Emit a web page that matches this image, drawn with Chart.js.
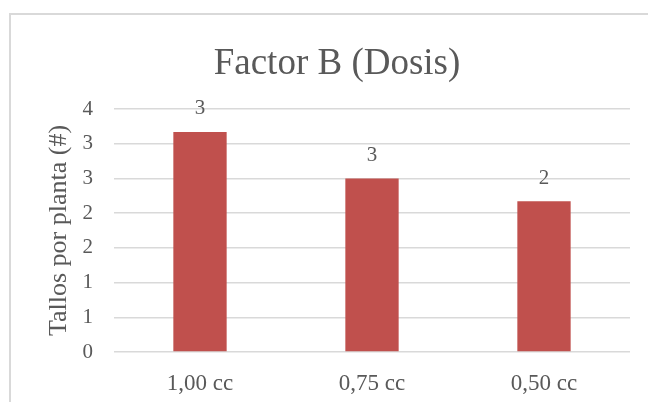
<!DOCTYPE html>
<html>
<head>
<meta charset="utf-8">
<script src="https://cdn.jsdelivr.net/npm/chart.js@4/dist/chart.umd.min.js"></script>
<style>
  html, body { margin: 0; padding: 0; background: #ffffff; }
  #wrap { position: relative; width: 648px; height: 402px; overflow: hidden; }
  #frame { position: absolute; left: 9px; top: 13px; width: 700px; height: 450px;
           border: 2px solid #d9d9d9; box-sizing: border-box; }
  #chart { position: absolute; left: 0; top: 0; }
</style>
</head>
<body>
<div id="wrap">
  <div id="frame"></div>
  <canvas id="chart" width="648" height="402"></canvas>
</div>
<script>
// Tallos por planta según la dosis aplicada
const categories = ['1,00 cc', '0,75 cc', '0,50 cc'];
const tallos = [3.17, 2.50, 2.17];
const chartTitle = 'Factor B (Dosis)';
const yTitle = 'Tallos por planta (#)';

const textColor = '#595959';
const serif = '"Times New Roman", "Liberation Serif", "DejaVu Serif", serif';

// Valores sobre cada barra, redondeados a entero
const barValueLabels = {
  id: 'barValueLabels',
  afterDatasetsDraw(chart) {
    const ctx = chart.ctx;
    const meta = chart.getDatasetMeta(0);
    ctx.save();
    ctx.font = '21px ' + serif;
    ctx.fillStyle = textColor;
    ctx.textAlign = 'center';
    ctx.textBaseline = 'middle';
    meta.data.forEach((bar, i) => {
      const v = chart.data.datasets[0].data[i];
      ctx.fillText(String(Math.round(v)), bar.x, bar.y - 23);
    });
    ctx.restore();
  }
};

new Chart(document.getElementById('chart'), {
  type: 'bar',
  data: {
    labels: categories,
    datasets: [{
      data: tallos,
      backgroundColor: '#c0504d',
      borderWidth: 0,
      barPercentage: 0.31,
      categoryPercentage: 1
    }]
  },
  options: {
    responsive: false,
    animation: false,
    layout: { padding: { left: 44, right: 18, top: 0, bottom: 0 } },
    plugins: {
      legend: { display: false },
      tooltip: { enabled: false },
      title: {
        display: true,
        text: chartTitle,
        color: textColor,
        font: { family: serif, size: 37, weight: 'normal' },
        padding: { top: 42, bottom: 22.6 }
      }
    },
    scales: {
      x: {
        grid: { display: false },
        border: { display: false },
        ticks: {
          color: textColor,
          font: { family: serif, size: 23 },
          padding: 10,
          maxRotation: 0
        },
        afterFit(scale) { scale.height = 50; }
      },
      y: {
        min: 0,
        max: 3.5,
        grid: { color: '#d9d9d9', lineWidth: 1.5, drawTicks: false },
        border: { display: false },
        ticks: {
          stepSize: 0.5,
          color: textColor,
          font: { family: serif, size: 21 },
          padding: 21,
          callback: (v) => String(Math.round(v))
        },
        title: {
          display: true,
          text: yTitle,
          color: textColor,
          font: { family: serif, size: 26 },
          padding: { top: 0, bottom: 0 }
        },
        afterFit(scale) { scale.width = 70; }
      }
    }
  },
  plugins: [barValueLabels]
});
</script>
</body>
</html>
